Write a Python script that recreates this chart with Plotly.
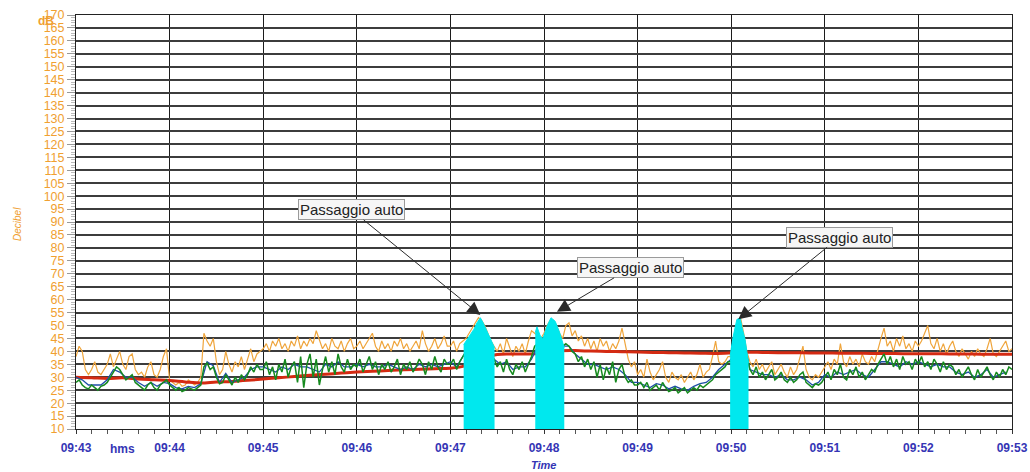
import numpy as np
import pandas as pd
import plotly.graph_objects as go

# ---------------- data ----------------
START = pd.Timestamp("2024-01-01 09:43:00")

# sound level series, one value every 2 s (rows = minutes 09:43 ... 09:52)
orange_rows = [
    [38,42,40,33,31,33,36,32,31,33,35,39,34,37,40,35,33,38,39,33,31,32,30,34,36,31,30,33,38,41],
    [29,28,27,28,26.5,27,29,28,27,28,30,47,44,42,45,36,31,33,40,35,32,36,34,38,33,37,41,36,39,40],
    [41,43,40,44,42,45,41,43,40,44,42,46,41,44,42,45,43,48,44,41,43,40,45,42,41,44,40,43,45,41],
    [42,44,41,43,45,47,42,40,44,41,43,40,44,42,45,41,43,40,42,44,41,48,43,40,42,45,41,43,46,42],
    [42,44,40,43,44,45,47,49,51,53,52,50,47,44,42,40,43,39,45,41,38,42,40,43,39,44,48,47,46,45],
    [47,50,52,52,50,47,45,50,51,46,48,44,46,42,45,41,44,40,45,42,44,40,43,41,44,49,43,37,34,36],
    [31,33,30,37,32,29,31,33,36,30,28,32,30,29,31,28,30,32,29,31,35,30,32,33,38,44,36,35,36,38],
    [38,46,52,53,47,40,36,34,37,33,35,32,34,36,31,33,35,32,30,34,31,33,38,42,33,30,29,31,30,32],
    [34,36,33,37,35,43,36,34,38,35,37,34,39,36,35,38,36,41,45,49,42,44,40,45,42,46,41,43,40,44],
    [42,44,47,50,43,41,45,40,43,39,42,44,40,38,41,39,37,40,38,41,39,38,41,45,39,38,40,42,44,40,41],
]
green_rows = [
    [28,29,27,26,25.5,27,26,25,26.5,27,28,30,32,34,33,31,29,30,31,28,27,26,25,27,28,26,25,27,28,29],
    [27,26,25,26,24.5,25,26,25.5,25,26,27,34,35.5,33,34,30,27.5,28,31,29,27,30,28,31,29,31,34,32,35,33],
    [33,36,31,34,29,35,32,37,30,34,36,28,38,26,35,39,30,37,27,33,38,32,36,31,39,34,32,37,33,35],
    [34,37,32,35,38,33,36,31,35,33,36,32,34,37,31,35,33,36,32,34,37,35,31,36,33,38,34,32,37,35],
    [35,37,33,36,38,40,42,44,46,48,47,45,42,39,37,34,36,32,37,33,31,35,33,36,32,35,38,42,43,42],
    [43,45,48,47,45,43,42,43,42,40,39,36,38,34,37,33,36,30,35,29,34,31,36,28,33,35,30,28,29,27],
    [27,28,26,28,25,26,27,25,28,26,24.5,25,26,24,25,26,24,25,26,25,27,26,27,28,29,31,32,33,34,36],
    [36,42,48,49,44,38,33,31,34,30,32,29,31,33,29,30,32,29,28,30,28,29,31,32,28,27,26,27.5,27,28],
    [30,32,29,33,31,35,30,29,33,31,34,30,32,29,31,33,32,35,37,39,35,38,34,37,33,38,35,36,33,37],
    [35,38,34,36,33,37,35,32,36,33,35,34,31,33,30,32,34,31,29,33,30,32,34,31,29,32,30,33,31,34,33],
]
# one value every 4 s
blue_rows = [
    [30,29,27,27,27,29,33,32,30,30,28,26.5,28,26.5,28],
    [27.5,26,25.5,26.5,26,27.5,36,34.5,28,31.5,28,29,30,33,34],
    [34,33,32,34,33,35,34,34,33,32,35,34,36,34,34],
    [35,34,35,34,34,35,34,33,34,33,35,34,35,34,35],
    [36,34,38,42,46,47,42,37,35,36,33,34,34,37,42],
    [43,47,45,42,42,39,37,35,35,34,33,34,33,31,28],
    [28,27,26,27.5,27,25.5,26.5,25.5,25,26.5,27.5,28,30,33,35],
    [37,47,44,33,32,31,31,30,31,29,29,30,29,27,28],
    [31,30,32,31,32,33,31,30,33,36,36,35,34,36,35],
    [36,35,34,35,34,34,32,31,32,30,31,33,30,31,32],
]
# running Leq, one value every 10 s
red_leq = [30,29.8,29.5,29.8,29.3,29,28.7,28.2,27.8,28.2,28.4,28.8,
           29.3,29.8,30.3,30.8,31.2,31.6,
           32,32.3,32.6,32.9,33.1,33.3,
           33.5,34.5,37,38.8,39,39,
           39.4,40.2,40.3,40.1,40,39.9,
           39.8,39.6,39.5,39.4,39.3,39.2,
           39.4,39.7,39.6,39.5,39.5,39.4,
           39.4,39.3,39.3,39.2,39.2,39.1,
           39.1,39.1,39,39,38.9,38.9,
           38.9]

# highlighted car passages (seconds after 09:43:00, dB)
pass1_t = [248.5,251,253,255,257,259.2,261,263,265,267,268.3]
pass1_v = [42.6,44.8,46.5,48.5,51,53,51,48.5,45.5,43,41.4]
pass2_t = [294.4,295.5,297.6,299.3,301.9,304.5,307.2,310,313]
pass2_v = [47.3,49.5,46,45,49.7,53,51.6,47.3,41.4]
pass3_t = [419.3,421,423.6,425.7,427,428.9,431.1]
pass3_v = [38.1,45,52.3,53,49,44.6,35.6]

# annotation tips (seconds, dB) and text offsets (px)
ann_label = "Passaggio auto"
ann_t = [259.2, 308.3, 424.6]
ann_db = [54.1, 55.3, 52.4]
ann_ax = [-129, 74, 101]
ann_ay = [-105, -44, -82]

y_ticks = list(range(10, 175, 5))

# ---------------- helpers ----------------
def flat(rows):
    return [v for r in rows for v in r]

def times(secs):
    return [START + pd.Timedelta(seconds=float(s)) for s in secs]

orange = flat(orange_rows)
green = flat(green_rows)
blue = flat(blue_rows)

t_or = times(np.arange(len(orange)) * 2)
t_gr = times(np.arange(len(green)) * 2)
t_bl = times(np.arange(len(blue)) * 4)
t_rd = times(np.arange(len(red_leq)) * 10)

ORANGE = "#EFA53C"
GREEN = "#168A1E"
BLUE = "#1F4FA8"
RED = "#D42A12"
CYAN = "#00E8EE"
YLAB = "#F0A030"
XLAB = "#3535B5"
FONT = "Liberation Sans"

fig = go.Figure()
fig.add_trace(go.Scatter(x=t_or, y=orange, mode="lines", line=dict(color=ORANGE, width=1.2)))
fig.add_trace(go.Scatter(x=t_rd, y=red_leq, mode="lines", line=dict(color=RED, width=3, shape="spline")))
fig.add_trace(go.Scatter(x=t_bl, y=blue, mode="lines", line=dict(color=BLUE, width=1.3)))
fig.add_trace(go.Scatter(x=t_gr, y=green, mode="lines", line=dict(color=GREEN, width=1.5)))
for pt, pv in ((pass1_t, pass1_v), (pass2_t, pass2_v), (pass3_t, pass3_v)):
    fig.add_trace(go.Scatter(x=times(pt), y=pv, mode="lines", fill="tozeroy",
                             fillcolor=CYAN, line=dict(color=CYAN, width=1)))

for t, d, ax, ay in zip(ann_t, ann_db, ann_ax, ann_ay):
    fig.add_annotation(x=START + pd.Timedelta(seconds=t), y=d, text=ann_label,
                       showarrow=True, ax=ax, ay=ay, arrowhead=2, arrowsize=2.6,
                       arrowwidth=1, arrowcolor="#2a2a2a", standoff=0,
                       bgcolor="#F6F6F6", bordercolor="#9a9a9a", borderwidth=1, borderpad=1,
                       font=dict(family=FONT, size=15, color="#222222"))

W, H = 1030, 472
L, R, T, B = 76, 18, 15, 43
pw, ph = W - L - R, H - T - B

def px(page_x):
    return (page_x - L) / pw

def py(page_y):
    return (H - B - page_y) / ph

def label(x, y, text, size, color, angle=0):
    fig.add_annotation(xref="paper", yref="paper", x=px(x), y=py(y), text=text,
                       xanchor="center", yanchor="middle", textangle=angle,
                       showarrow=False, font=dict(family=FONT, size=size, color=color))

label(46, 21, "<b>dB</b>", 12, YLAB)
label(122.5, 449, "<b>hms</b>", 12, XLAB)
label(543, 465, "<b><i>Time</i></b>", 11, XLAB)
label(17, 224, "<i>Decibel</i>", 10, YLAB, -90)

fig.update_layout(
    width=W, height=H, margin=dict(l=L, r=R, t=T, b=B, autoexpand=False),
    paper_bgcolor="white", plot_bgcolor="white", showlegend=False,
    xaxis=dict(type="date", range=[START, START + pd.Timedelta(minutes=10)], automargin=False,
               tick0=START, dtick=60000, tickformat="%H:%M",
               showgrid=True, gridcolor="#1c1c1c", gridwidth=1.2,
               ticks="outside", ticklen=4, tickcolor="#333", ticklabelstandoff=4,
               minor=dict(dtick=10000, ticks="outside", ticklen=4, tickcolor="#555", showgrid=False),
               tickfont=dict(family=FONT, size=12, color=XLAB, weight="bold"),
               showline=True, linecolor="#222", linewidth=1, mirror=True, zeroline=False),
    yaxis=dict(range=[10, 170], tickvals=y_ticks, ticktext=[str(v) for v in y_ticks], automargin=False,
               showgrid=True, gridcolor="#3c3c3c", gridwidth=1.6,
               ticks="outside", ticklen=8, tickcolor="#999",
               minor=dict(dtick=1, ticks="outside", ticklen=4, tickcolor="#bbb", showgrid=False),
               tickfont=dict(family=FONT, size=12.5, color=YLAB),
               showline=True, linecolor="#222", linewidth=1, mirror=True, zeroline=False),
)

fig.write_html("out.html", config={"displayModeBar": False},
               post_script="document.body.style.margin='0';document.body.style.overflow='hidden';")
